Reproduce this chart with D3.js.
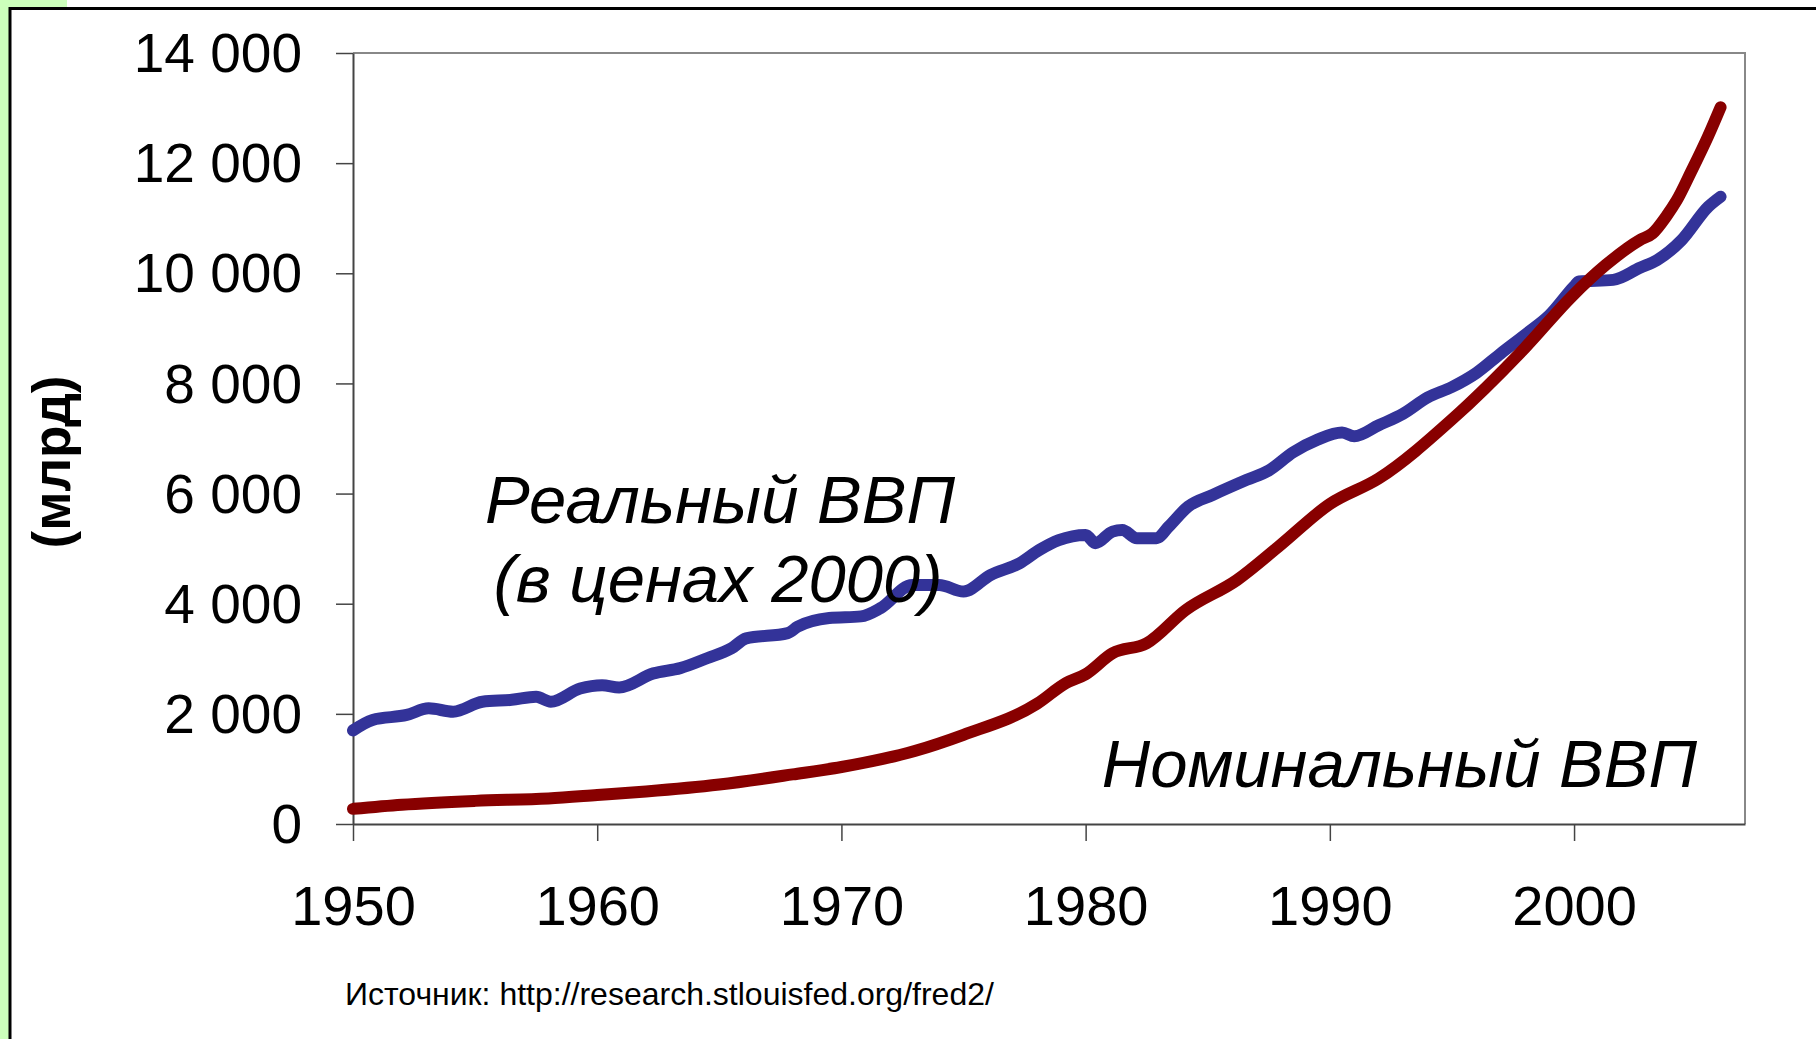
<!DOCTYPE html>
<html>
<head>
<meta charset="utf-8">
<script src="https://cdn.jsdelivr.net/npm/d3@7"></script>
<style>
  body { margin: 0; background: #fff; }
  svg { display: block; }
  text { font-family: "Liberation Sans", Arial, sans-serif; }
</style>
</head>
<body>
<svg id="chart" width="1816" height="1039"></svg>
<script>
// Real GDP (2000 prices), bn $
const realYears = [1950.0, 1950.8, 1952.2, 1953.1, 1954.1, 1955.3, 1956.5, 1957.5, 1958.1, 1959.3,
  1960.2, 1960.9, 1962.3, 1963.4, 1964.5, 1965.5, 1966.1, 1967.8, 1968.2, 1969.5,
  1970.8, 1971.6, 1972.9, 1974.0, 1975.0, 1976.1, 1977.3, 1978.1, 1978.9, 1980.0,
  1980.4, 1981.1, 1981.5, 1982.1, 1982.9, 1983.4, 1984.2, 1985.2, 1986.6, 1987.5,
  1988.5, 1989.5, 1990.5, 1991.0, 1992.0, 1993.0, 1994.0, 1995.0, 1996.0, 1997.0,
  1998.0, 1999.0, 2000.0, 2000.2, 2001.6, 2002.7, 2003.4, 2004.4, 2005.5, 2006.0];
const realValues = [1700, 1890, 1980, 2100, 2040, 2220, 2255, 2310, 2220, 2460,
  2520, 2480, 2735, 2830, 3010, 3190, 3370, 3465, 3580, 3740,
  3770, 3920, 4340, 4340, 4220, 4520, 4735, 4975, 5155, 5250,
  5100, 5310, 5340, 5190, 5190, 5400, 5765, 5975, 6250, 6420,
  6750, 6980, 7110, 7040, 7240, 7450, 7745, 7935, 8190, 8545,
  8885, 9240, 9760, 9850, 9880, 10100, 10240, 10600, 11210, 11390];

// Nominal GDP, bn $
const nomYears = [1950.0, 1952.0, 1955.0, 1958.0, 1960.0, 1962.0, 1965.0, 1968.0, 1970.0, 1973.0,
  1975.0, 1978.0, 1979.2, 1980.0, 1981.1, 1982.5, 1984.1, 1986.2, 1987.9, 1990.0,
  1992.0, 1995.0, 1998.0, 1999.9, 2001.3, 2002.7, 2003.2, 2003.8, 2004.2, 2004.8,
  2005.5, 2006.0];
const nomValues = [275, 350, 420, 465, 526, 590, 716, 900, 1035, 1326,
  1620, 2180, 2560, 2720, 3100, 3282, 3886, 4431, 5036, 5810,
  6273, 7347, 8652, 9576, 10151, 10605, 10720, 11050, 11320, 11850,
  12500, 13015];

const yTicks = [0, 2000, 4000, 6000, 8000, 10000, 12000, 14000];
const xTicks = [1950, 1960, 1970, 1980, 1990, 2000];

const svg = d3.select("#chart");

// slide frame
svg.append("rect").attr("x", 0).attr("y", 0).attr("width", 9).attr("height", 1039).attr("fill", "#ccffbb");
svg.append("rect").attr("x", 0).attr("y", 0).attr("width", 67).attr("height", 8).attr("fill", "#ccffbb");
svg.append("line").attr("x1", 9).attr("x2", 1816).attr("y1", 8.5).attr("y2", 8.5)
  .attr("stroke", "#000").attr("stroke-width", 3);
svg.append("line").attr("x1", 10).attr("x2", 10).attr("y1", 7).attr("y2", 1039)
  .attr("stroke", "#000").attr("stroke-width", 3);

const x = d3.scaleLinear().domain([1950, 2007]).range([353, 1745]);
const y = d3.scaleLinear().domain([0, 14000]).range([824, 53]);

// plot border (top, right)
svg.append("path")
  .attr("d", `M${x(1950)},${y(14000)}H${x(2007)}V${y(0)}`)
  .attr("fill", "none").attr("stroke", "#888").attr("stroke-width", 2);

const fmt = d3.formatLocale({ decimal: ",", thousands: " ", grouping: [3], currency: ["", ""] }).format(",");

const yAxis = svg.append("g")
  .attr("transform", `translate(${x(1950)},0)`)
  .call(d3.axisLeft(y).tickValues(yTicks).tickSize(17).tickSizeOuter(0).tickFormat(fmt));
yAxis.selectAll("text")
  .attr("x", -51)
  .attr("dy", "0.34em")
  .attr("font-size", 55).attr("fill", "#000");

const xAxis = svg.append("g")
  .attr("transform", `translate(0,${y(0)})`)
  .call(d3.axisBottom(x).tickValues(xTicks).tickSize(17).tickSizeOuter(0).tickFormat(d3.format("d")));
xAxis.selectAll("text")
  .attr("y", 101).attr("dy", 0)
  .attr("font-size", 56).attr("fill", "#000");

[yAxis, xAxis].forEach(g => {
  g.select(".domain").attr("stroke", "#444").attr("stroke-width", 2);
  g.selectAll(".tick line").attr("stroke", "#444").attr("stroke-width", 1.5);
});

const line = d3.line().x(d => x(d[0])).y(d => y(d[1])).curve(d3.curveMonotoneX);

svg.append("path")
  .datum(d3.zip(realYears, realValues))
  .attr("d", line)
  .attr("fill", "none").attr("stroke", "#333399").attr("stroke-width", 12)
  .attr("stroke-linejoin", "round").attr("stroke-linecap", "round");

svg.append("path")
  .datum(d3.zip(nomYears, nomValues))
  .attr("d", line)
  .attr("fill", "none").attr("stroke", "#880000").attr("stroke-width", 12)
  .attr("stroke-linejoin", "round").attr("stroke-linecap", "round");

// labels
svg.append("text")
  .attr("transform", "translate(70,462) rotate(-90)")
  .attr("text-anchor", "middle").attr("font-size", 53).attr("font-weight", "bold")
  .text("(млрд)");

svg.append("text")
  .attr("x", 720).attr("y", 523).attr("text-anchor", "middle")
  .attr("font-size", 67).attr("font-style", "italic")
  .text("Реальный ВВП");
svg.append("text")
  .attr("x", 718).attr("y", 602).attr("text-anchor", "middle")
  .attr("font-size", 67).attr("font-style", "italic")
  .text("(в ценах 2000)");
svg.append("text")
  .attr("x", 1697).attr("y", 787).attr("text-anchor", "end")
  .attr("font-size", 67).attr("font-style", "italic")
  .text("Номинальный ВВП");

svg.append("text")
  .attr("x", 345).attr("y", 1005)
  .attr("font-size", 32)
  .text("Источник: http://research.stlouisfed.org/fred2/");
</script>
</body>
</html>
